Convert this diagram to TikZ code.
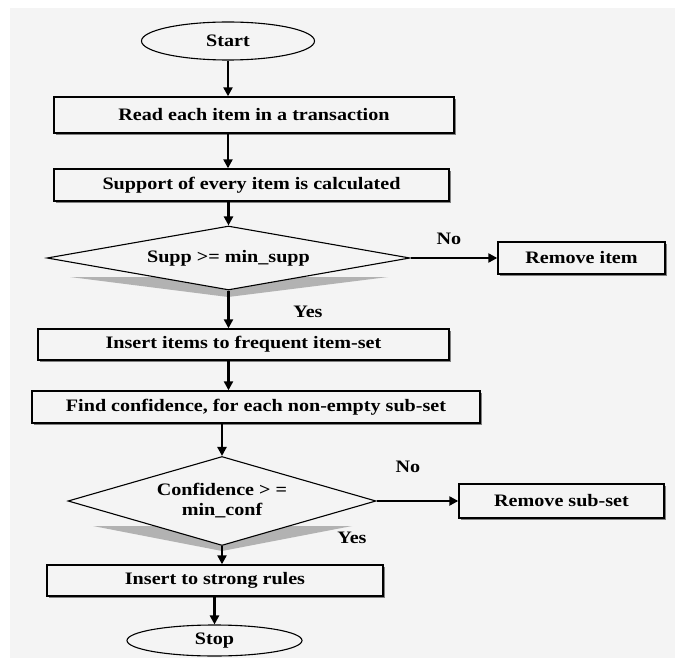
\documentclass[tikz,border=0pt]{standalone}
\usepackage{fontspec}
\setmainfont{Liberation Serif}[FakeStretch=1.15]
\usetikzlibrary{shapes.geometric,arrows.meta,shadows}
\definecolor{bggray}{HTML}{F4F4F4}
\begin{document}
\begin{tikzpicture}[
    x=1pt, y=-1pt,
    every node/.style={font=\fontsize{17.5}{20}\selectfont\bfseries},
    block/.style={rectangle, draw, line width=1.4pt, fill=bggray, inner sep=0pt,
        drop shadow={shadow xshift=1.6pt, shadow yshift=-1.6pt, fill=black!50, opacity=1}},
    term/.style={ellipse, draw, line width=1.1pt, fill=bggray, inner sep=0pt},
    decision/.style={diamond, draw, line width=1.1pt, fill=bggray, inner sep=0pt, align=center},
    arrow/.style={-{Triangle[length=9pt,width=9pt]}, line width=2.4pt}
]
\useasboundingbox (0,0) rectangle (675,658);
\fill[bggray] (10,8) rectangle (675,658);

% shadows under the decisions
\fill[gray!60] (70,277) -- (388,277) -- (228,297) -- cycle;
\fill[gray!60] (93,526) -- (352,526) -- (222,551) -- cycle;

\node[term, minimum width=173, minimum height=38] (start) at (228,41) {Start};
\node[block, minimum width=400, minimum height=36] (b1) at (254,115) {Read each item in a transaction};
\node[block, minimum width=395, minimum height=32] (b2) at (251.5,185) {Support of every item is calculated};
\node[decision, aspect=5.67, minimum width=363, minimum height=64] (d1) at (228.5,258) {Supp >= min\_supp};
\node[block, minimum width=167, minimum height=32] (r1) at (581.5,258) {Remove item};
\node[block, minimum width=411, minimum height=31] (b3) at (243.5,344.5) {Insert items to frequent item-set};
\node[block, minimum width=448, minimum height=32] (b4) at (256,407) {Find confidence, for each non-empty sub-set};
\node[decision, aspect=3.46, minimum width=308, minimum height=89] (d2) at (222,501) {Confidence > =\\min\_conf};
\node[block, minimum width=205, minimum height=34] (r2) at (561.5,501) {Remove sub-set};
\node[block, minimum width=336, minimum height=31] (b5) at (215,580.5) {Insert to strong rules};
\node[term, minimum width=175, minimum height=31] (stop) at (214.5,640.5) {Stop};

\draw[arrow] (start.south) -- (start.south |- b1.north);
\draw[arrow] (b1.south -| start) -- (b2.north -| start);
\draw[arrow] (b2.south -| d1) -- (d1.north);
\draw[arrow] (d1.east) -- (r1.west);
\draw[arrow] (d1.south) -- (d1.south |- b3.north);
\draw[arrow] (b3.south -| d1) -- (b4.north -| d1);
\draw[arrow] (b4.south -| d2) -- (d2.north);
\draw[arrow] (d2.east) -- (r2.west);
\draw[arrow] (d2.south) -- (d2.south |- b5.north);
\draw[arrow] (b5.south -| stop) -- (stop.north);

\node (no1) at (449,239) {No};
\node (yes1) at (308,312) {Yes};
\node (no2) at (408,467) {No};
\node (yes2) at (352,538) {Yes};
\end{tikzpicture}
\end{document}
